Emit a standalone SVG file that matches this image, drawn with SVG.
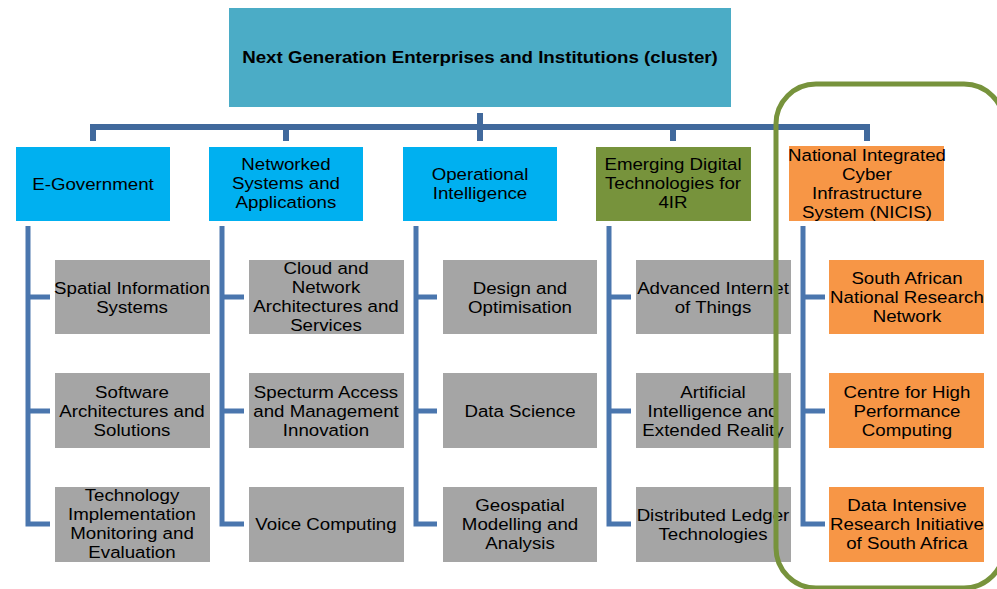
<svg xmlns="http://www.w3.org/2000/svg" width="997" height="589" viewBox="0 0 997 589">
<style>
text{font-family:"Liberation Sans",Arial,sans-serif;font-size:17px;fill:#000;text-anchor:middle;transform-box:fill-box;transform-origin:center;transform:scaleX(1.1)}
.t{font-weight:bold}
.top{fill:#4BACC6}
.blue{fill:#00B0F0}
.green{fill:#77933C}
.orange{fill:#F79646}
.gray{fill:#A5A5A5}
.bus{fill:none;stroke:#41699C;stroke-width:6}
.col{fill:none;stroke:#4A76AE;stroke-width:5}
.frame{fill:none;stroke:#77933C;stroke-width:5}
</style>
<rect width="997" height="589" fill="#fff"/>
<g id="connectors">
<path class="bus" d="M93,141 V127 H867 V141 M286,127 V141 M480,113 V141 M673,127 V141"/>
<path class="col" d="M28,226 V524 H50 M28,297 H50 M28,411 H50"/>
<path class="col" d="M222,226 V524 H244 M222,297 H244 M222,411 H244"/>
<path class="col" d="M416,226 V524 H437 M416,297 H437 M416,411 H437"/>
<path class="col" d="M609,226 V524 H631 M609,297 H631 M609,411 H631"/>
<path class="col" d="M803,226 V524 H825 M803,297 H825 M803,411 H825"/>
</g>
<g id="root"><rect class="top" x="229" y="8" width="502" height="99"/><text class="t" x="480" y="63">Next Generation Enterprises and Institutions (cluster)</text></g>
<g id="egov"><rect class="blue" x="16" y="147" width="154" height="74"/><text x="93" y="190">E-Government</text></g>
<g id="networked"><rect class="blue" x="209" y="147" width="154" height="74"/><text x="286" y="170">Networked</text><text x="286" y="189">Systems and</text><text x="286" y="208">Applications</text></g>
<g id="opint"><rect class="blue" x="403" y="147" width="154" height="74"/><text x="480" y="180">Operational</text><text x="480" y="199">Intelligence</text></g>
<g id="emerging"><rect class="green" x="596" y="147" width="155" height="74"/><text x="673" y="170">Emerging Digital</text><text x="673" y="189">Technologies for</text><text x="673" y="208">4IR</text></g>
<g id="nicis"><rect class="orange" x="789" y="146" width="155" height="75"/><text x="867" y="161">National Integrated</text><text x="867" y="180">Cyber</text><text x="867" y="199">Infrastructure</text><text x="867" y="218">System (NICIS)</text></g>

<g id="spatial"><rect class="gray" x="55" y="260" width="155" height="74"/><text x="132" y="294">Spatial Information</text><text x="132" y="313">Systems</text></g>
<g id="software"><rect class="gray" x="55" y="373" width="155" height="75"/><text x="132" y="398">Software</text><text x="132" y="417">Architectures and</text><text x="132" y="436">Solutions</text></g>
<g id="techimpl"><rect class="gray" x="55" y="487" width="155" height="75"/><text x="132" y="501">Technology</text><text x="132" y="520">Implementation</text><text x="132" y="539">Monitoring and</text><text x="132" y="558">Evaluation</text></g>

<g id="cloud"><rect class="gray" x="249" y="260" width="155" height="74"/><text x="326" y="274">Cloud and</text><text x="326" y="293">Network</text><text x="326" y="312">Architectures and</text><text x="326" y="331">Services</text></g>
<g id="spectrum"><rect class="gray" x="249" y="373" width="155" height="75"/><text x="326" y="398">Specturm Access</text><text x="326" y="417">and Management</text><text x="326" y="436">Innovation</text></g>
<g id="voice"><rect class="gray" x="249" y="487" width="155" height="75"/><text x="326" y="530">Voice Computing</text></g>

<g id="design"><rect class="gray" x="443" y="260" width="154" height="74"/><text x="520" y="294">Design and</text><text x="520" y="313">Optimisation</text></g>
<g id="datasci"><rect class="gray" x="443" y="373" width="154" height="75"/><text x="520" y="417">Data Science</text></g>
<g id="geo"><rect class="gray" x="443" y="487" width="154" height="75"/><text x="520" y="511">Geospatial</text><text x="520" y="530">Modelling and</text><text x="520" y="549">Analysis</text></g>

<g id="iot"><rect class="gray" x="636" y="260" width="155" height="74"/><text x="713" y="294">Advanced Internet</text><text x="713" y="313">of Things</text></g>
<g id="ai"><rect class="gray" x="636" y="373" width="155" height="75"/><text x="713" y="398">Artificial</text><text x="713" y="417">Intelligence and</text><text x="713" y="436">Extended Reality</text></g>
<g id="dlt"><rect class="gray" x="636" y="487" width="155" height="75"/><text x="713" y="521">Distributed Ledger</text><text x="713" y="540">Technologies</text></g>

<g id="sanren"><rect class="orange" x="829" y="260" width="155" height="74"/><text x="907" y="284">South African</text><text x="907" y="303">National Research</text><text x="907" y="322">Network</text></g>
<g id="chpc"><rect class="orange" x="829" y="373" width="155" height="75"/><text x="907" y="398">Centre for High</text><text x="907" y="417">Performance</text><text x="907" y="436">Computing</text></g>
<g id="dirisa"><rect class="orange" x="829" y="487" width="155" height="75"/><text x="907" y="511">Data Intensive</text><text x="907" y="530">Research Initiative</text><text x="907" y="549">of South Africa</text></g>

<g id="nicis-frame"><rect class="frame" x="776" y="84" width="228" height="504" rx="40"/></g>
</svg>
